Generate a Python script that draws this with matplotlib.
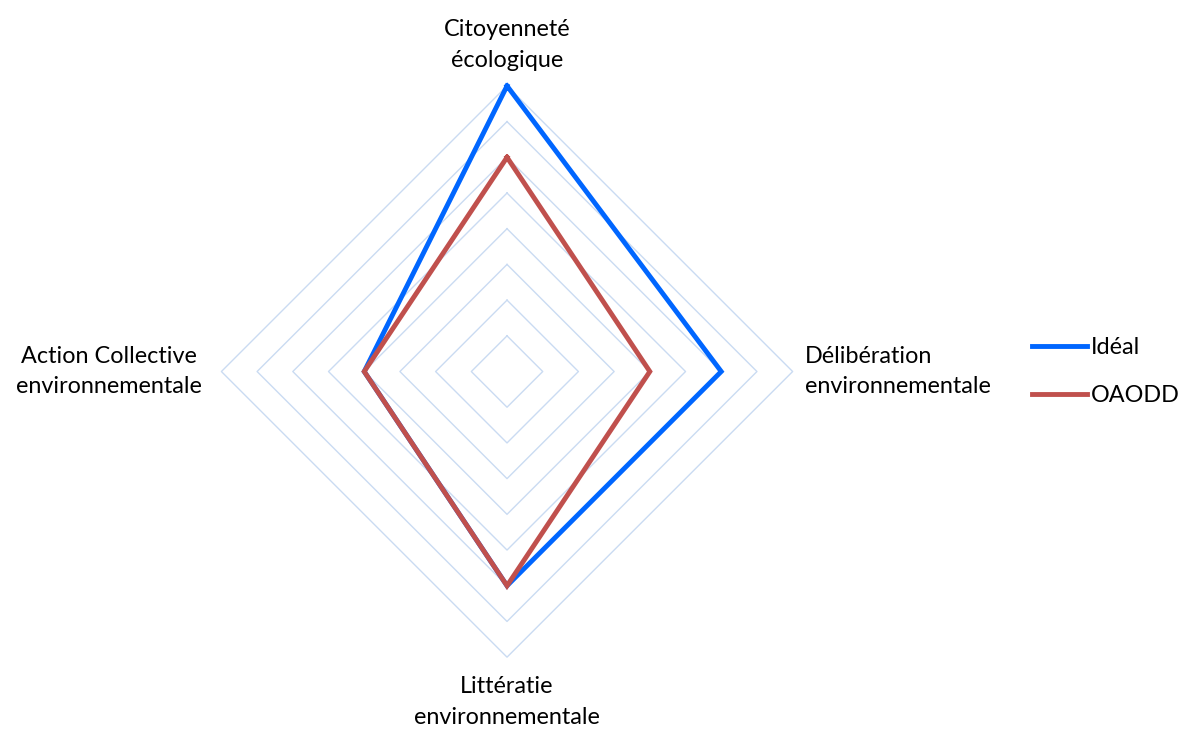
import numpy as np
import matplotlib
import matplotlib.pyplot as plt

matplotlib.use('Agg')
plt.rcParams['font.family'] = ['Lato', 'DejaVu Sans']

# radar axes, clockwise from the top
categories = ["Citoyenneté\nécologique", "Délibération\nenvironnementale",
              "Littératie\nenvironnementale", "Action Collective\nenvironnementale"]
ideal = [8, 6, 6, 4]
oaodd = [6, 4, 6, 4]
series_names = ["Idéal", "OAODD"]
series_colors = ["#0066FF", "#C0504D"]
grid_levels = [1, 2, 3, 4, 5, 6, 7, 8]

angles = np.pi / 2 - np.arange(len(categories)) * 2 * np.pi / len(categories)


def to_xy(values):
    v = np.asarray(values, dtype=float)
    x = v * np.cos(angles)
    y = v * np.sin(angles)
    return np.append(x, x[0]), np.append(y, y[0])


fig = plt.figure(figsize=(11.82, 7.31), dpi=100)
ax = fig.add_axes([0.1722, 0.0766, 0.5135, 0.8303])
ax.set_xlim(-8.5, 8.5)
ax.set_ylim(-8.5, 8.5)
ax.axis('off')

# polygon grid rings
for lvl in grid_levels:
    gx, gy = to_xy([lvl] * len(categories))
    ax.plot(gx, gy, color="#CADBF2", lw=1.0, zorder=1)

for vals, name, col in zip([ideal, oaodd], series_names, series_colors):
    sx, sy = to_xy(vals)
    ax.plot(sx, sy, color=col, lw=3.5, label=name, zorder=3,
            solid_joinstyle='miter')

# category labels
fs = 16.8
ls = 1.58
ax.text(0, 9.15, categories[0], ha='center', va='center', fontsize=fs,
        linespacing=ls, clip_on=False)
ax.text(8.35, 0, categories[1], ha='left', va='center', fontsize=fs,
        linespacing=ls, clip_on=False)
ax.text(0, -9.26, categories[2], ha='center', va='center', fontsize=fs,
        linespacing=ls, clip_on=False)
ax.text(-8.54, 0, categories[3], ha='right', va='center', fontsize=fs,
        linespacing=ls, clip_on=False, multialignment='center')

fig.legend(loc='center left', bbox_to_anchor=(0.873, 0.492), frameon=False,
           fontsize=fs, handlelength=2.36, handletextpad=0.15, labelspacing=1.17,
           borderpad=0, borderaxespad=0)

fig.savefig("out.png", dpi=100)
